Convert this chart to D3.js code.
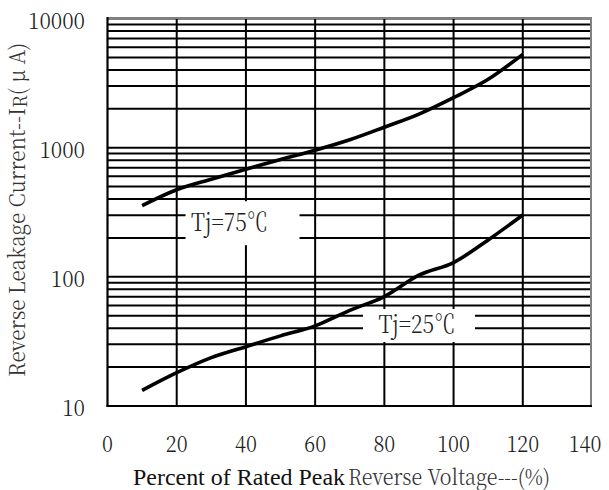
<!DOCTYPE html>
<html>
<head>
<meta charset="utf-8">
<script src="https://cdn.jsdelivr.net/npm/d3@7"></script>
<style>
html,body{margin:0;padding:0;background:#fff;}
svg{display:block;}
</style>
</head>
<body>
<svg id="chart" width="609" height="490"></svg>
<script>
// ---- data ----
const xTicks = [0, 20, 40, 60, 80, 100, 120, 140];
const yTicks = [10, 100, 1000, 10000];
const yTickLabels = ["10", "100", "1000", "10000"];
const voltagePct = [10, 20, 30, 40, 50, 60, 70, 80, 90, 100, 110, 120];
const leak75 = [356, 472, 570, 681, 810, 955, 1150, 1440, 1820, 2440, 3380, 5280];
const leak25 = [13.2, 18.1, 23.7, 28.8, 34.9, 41.7, 55, 70.3, 103, 129, 193, 301];
const seriesLabels = ["Tj=75\u2103", "Tj=25\u2103"];
const labelAnchors = [[50, 260], [90, 42]]; // data-space positions of the label boxes
const xTitleA = "Percent of Rated Peak";
const xTitleB = "Reverse Voltage---(%)";

const MING = "'Noto Serif CJK TC'";
const ROMAN = "'Liberation Serif'";

// ---- layout ----
const svg = d3.select("#chart");
const pL = 107.5, pR = 592, pT = 18.5, pB = 406;
const x = d3.scaleLinear().domain([0, 140]).range([pL, pR]);
const y = d3.scaleLog().domain([10, 10000]).range([pB, pT]);

// minor/major horizontal grid: 1..9 x 10^n
const hLines = [];
for (let p = 1; p <= 3; p++) for (let m = 1; m <= 9; m++) hLines.push(m * Math.pow(10, p));
hLines.push(10000);

const grid = svg.append("g");
grid.selectAll("line.h").data(hLines).join("line")
  .attr("x1", pL).attr("x2", pR)
  .attr("y1", d => y(d)).attr("y2", d => y(d))
  .attr("stroke", "#000").attr("stroke-width", 2);
grid.selectAll("line.v").data(xTicks.slice(1, -1)).join("line")
  .attr("x1", d => x(d)).attr("x2", d => x(d))
  .attr("y1", pT).attr("y2", pB)
  .attr("stroke", "#000").attr("stroke-width", 2);

// frame: top & right grey, left & bottom black
svg.append("line").attr("x1", pL).attr("x2", pR).attr("y1", pT - 0.5).attr("y2", pT - 0.5)
  .attr("stroke", "#808080").attr("stroke-width", 2);
svg.append("line").attr("x1", pR - 1).attr("x2", pR - 1).attr("y1", pT - 1.5).attr("y2", pB)
  .attr("stroke", "#808080").attr("stroke-width", 2);
svg.append("line").attr("x1", pL).attr("x2", pL).attr("y1", pT - 1.5).attr("y2", pB + 1)
  .attr("stroke", "#000").attr("stroke-width", 2.2);
svg.append("line").attr("x1", pL - 1).attr("x2", pR).attr("y1", pB).attr("y2", pB)
  .attr("stroke", "#000").attr("stroke-width", 2.2);

// label boxes (white, cover grid)
const boxW = [114, 112], boxH = [44, 33];
const boxes = svg.append("g");
seriesLabels.forEach((s, i) => {
  const cx = x(labelAnchors[i][0]) - (i === 0 ? 38 : 0);
  const cy = y(labelAnchors[i][1]);
  boxes.append("rect")
    .attr("x", cx - boxW[i] / 2).attr("y", cy - boxH[i] / 2)
    .attr("width", boxW[i]).attr("height", boxH[i]).attr("fill", "#fff");
  boxes.append("text")
    .attr("x", cx - (i === 0 ? 13 : 2)).attr("y", cy + 8)
    .attr("text-anchor", "middle").attr("font-family", MING).attr("font-weight", 300)
    .attr("font-size", 25).attr("fill", "#222")
    .attr("textLength", 77).attr("lengthAdjust", "spacingAndGlyphs")
    .text(s);
});

// curves
const line = d3.line().x(d => x(d[0])).y(d => y(d[1])).curve(d3.curveMonotoneX);
[leak75, leak25].forEach(vals => {
  svg.append("path")
    .datum(voltagePct.map((v, i) => [v, vals[i]]))
    .attr("d", line).attr("fill", "none")
    .attr("stroke", "#000").attr("stroke-width", 3.6)
    .attr("stroke-linejoin", "round");
});

// y tick labels
svg.append("g").selectAll("text").data(yTicks).join("text")
  .attr("x", 85).attr("y", d => y(d) + 10)
  .attr("text-anchor", "end").attr("font-family", MING).attr("font-weight", 300)
  .attr("font-size", 23).attr("fill", "#222")
  .attr("textLength", (d, i) => 11.4 * yTickLabels[i].length).attr("lengthAdjust", "spacingAndGlyphs")
  .text((d, i) => yTickLabels[i]);

// x tick labels (last one pulled in to stay inside the frame)
svg.append("g").selectAll("text").data(xTicks).join("text")
  .attr("x", d => Math.min(x(d), 585)).attr("y", 451.5)
  .attr("text-anchor", "middle").attr("font-family", MING).attr("font-weight", 300)
  .attr("font-size", 23).attr("fill", "#222")
  .attr("textLength", d => 10.9 * String(d).length).attr("lengthAdjust", "spacingAndGlyphs")
  .text(d => d);

// x title
svg.append("text").attr("x", 133).attr("y", 485)
  .attr("font-family", ROMAN)
  .attr("font-size", 22.5).attr("fill", "#111")
  .attr("textLength", 212).attr("lengthAdjust", "spacingAndGlyphs")
  .text(xTitleA);
svg.append("text").attr("x", 348).attr("y", 485)
  .attr("font-family", MING).attr("font-weight", 300)
  .attr("font-size", 22).attr("fill", "#333")
  .attr("textLength", 202).attr("lengthAdjust", "spacingAndGlyphs")
  .text(xTitleB);

// y title
const yt = svg.append("text")
  .attr("transform", "translate(25,210) rotate(-90)")
  .attr("text-anchor", "middle").attr("font-family", MING).attr("font-weight", 300)
  .attr("font-size", 22).attr("fill", "#333")
  .attr("textLength", 334).attr("lengthAdjust", "spacingAndGlyphs");
yt.append("tspan").text("Reverse Leakage Current--I");
yt.append("tspan").attr("font-size", 19).attr("dy", 2).text("R");
yt.append("tspan").attr("dy", -2).text("( \u03bc A)");
</script>
</body>
</html>
